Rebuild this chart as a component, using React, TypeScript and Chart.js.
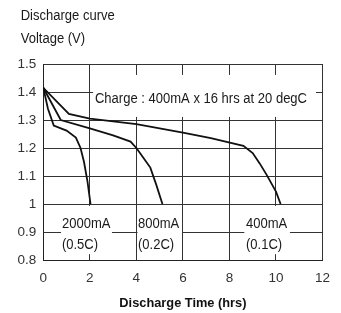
import React, { useEffect, useRef } from 'react';
import { Chart, registerables } from 'chart.js';

Chart.register(...registerables);

// ---- data ----
const timeTicks = [0, 2, 4, 6, 8, 10, 12];
const voltageTicks = [0.8, 0.9, 1.0, 1.1, 1.2, 1.3, 1.4, 1.5];

const seriesNames = ['2000mA (0.5C)', '800mA (0.2C)', '400mA (0.1C)'];
const time2000 = [0, 0.2, 0.45, 1.0, 1.4, 1.6, 1.75, 1.9, 2.03];
const volt2000 = [1.415, 1.34, 1.28, 1.262, 1.237, 1.2, 1.15, 1.08, 1.0];
const time800 = [0, 0.75, 2, 3, 3.75, 4.0, 4.3, 4.6, 4.85, 5.12];
const volt800 = [1.415, 1.3, 1.27, 1.245, 1.223, 1.2, 1.165, 1.13, 1.07, 1.0];
const time400 = [0, 1.1, 2, 4, 6, 7.2, 8.6, 9.0, 9.3, 9.6, 10.0, 10.2];
const volt400 = [1.415, 1.322, 1.305, 1.285, 1.255, 1.235, 1.208, 1.182, 1.145, 1.104, 1.044, 1.0];

const chartTitle = 'Discharge curve';
const yAxisTitle = 'Voltage (V)';
const xAxisTitle = 'Discharge Time (hrs)';
const chargeNote = 'Charge : 400mA x 16 hrs at 20 degC';
const rateLabels = [
  ['2000mA', '(0.5C)'],
  ['800mA', '(0.2C)'],
  ['400mA', '(0.1C)'],
];

// note boxes, in data units (layout only)
const noteBoxes = [
  { lines: [chargeNote], x0: 2.14, x1: 11.72, y0: 1.311, y1: 1.461, tx: 2.22, ty: [1.377] },
  { lines: rateLabels[0], x0: 0.76, x1: 2.95, y0: 0.821, y1: 0.993, tx: 0.8, ty: [0.931, 0.854] },
  { lines: rateLabels[1], x0: 4.05, x1: 5.96, y0: 0.821, y1: 0.993, tx: 4.07, ty: [0.931, 0.854] },
  { lines: rateLabels[2], x0: 8.64, x1: 10.6, y0: 0.821, y1: 0.993, tx: 8.71, ty: [0.931, 0.854] },
];

function hasFont(name: string): boolean {
  const c = document.createElement('canvas').getContext('2d');
  if (!c) return false;
  const s = 'abcdefghijklmnop 0123456789';
  c.font = '40px monospace';
  const a = c.measureText(s).width;
  c.font = `40px '${name}', monospace`;
  const b = c.measureText(s).width;
  return Math.abs(a - b) > 0.5;
}

const pts = (xs: number[], ys: number[]) => xs.map((x, i) => ({ x, y: ys[i] }));

export default function App() {
  const ref = useRef<HTMLCanvasElement | null>(null);

  useEffect(() => {
    if (!ref.current) return;
    const narrow = hasFont('Liberation Sans Narrow');
    const tickFont = narrow
      ? { family: "'Liberation Sans Narrow', 'Liberation Sans', Arial, sans-serif", size: 16 }
      : { family: "'Liberation Sans', Arial, sans-serif", size: 13.5 };
    const titleFont = narrow
      ? { family: "'Liberation Sans Narrow', 'Liberation Sans', Arial, sans-serif", size: 15.5, weight: 'bold' as const }
      : { family: "'Liberation Sans', Arial, sans-serif", size: 12.8, weight: 'bold' as const };

    const textFont = "15.5px 'Liberation Sans', Arial, sans-serif";
    const sx = 0.84;
    const drawText = (ctx: CanvasRenderingContext2D, t: string, x: number, y: number, base: CanvasTextBaseline) => {
      ctx.save();
      ctx.font = textFont;
      ctx.fillStyle = '#1a1a1a';
      ctx.textAlign = 'left';
      ctx.textBaseline = base;
      ctx.translate(x, y);
      ctx.scale(sx, 1);
      ctx.fillText(t, 0, 0);
      ctx.restore();
    };

    const notesPlugin = {
      id: 'notes',
      beforeDatasetsDraw(chart: any) {
        const { ctx, scales } = chart;
        const xs = scales.x;
        const ys = scales.y;
        noteBoxes.forEach((b) => {
          const x0 = xs.getPixelForValue(b.x0);
          const x1 = xs.getPixelForValue(b.x1);
          const y0 = ys.getPixelForValue(b.y1);
          const y1 = ys.getPixelForValue(b.y0);
          ctx.save();
          ctx.fillStyle = '#ffffff';
          ctx.fillRect(x0, y0, x1 - x0, y1 - y0);
          ctx.restore();
          b.lines.forEach((line, i) => {
            drawText(ctx, line, xs.getPixelForValue(b.tx), ys.getPixelForValue(b.ty[i]), 'middle');
          });
        });
      },
      afterDraw(chart: any) {
        const { ctx } = chart;
        drawText(ctx, chartTitle, 12.7, 11.5, 'alphabetic');
        drawText(ctx, yAxisTitle, 12.7, 34.5, 'alphabetic');
      },
    };

    const lineStyle = {
      borderColor: '#111111',
      borderWidth: 1.8,
      pointRadius: 0,
      fill: false,
      tension: 0,
    };

    const chart = new Chart(ref.current, {
      type: 'line',
      data: {
        datasets: [
          { label: seriesNames[0], data: pts(time2000, volt2000), ...lineStyle },
          { label: seriesNames[1], data: pts(time800, volt800), ...lineStyle },
          { label: seriesNames[2], data: pts(time400, volt400), ...lineStyle },
        ],
      },
      options: {
        responsive: false,
        animation: false,
        layout: { padding: { left: 0, right: 18.5, top: 56, bottom: 0 } },
        plugins: {
          legend: { display: false },
          tooltip: { enabled: false },
          title: { display: false },
        },
        scales: {
          x: {
            type: 'linear',
            min: 0,
            max: 12,
            afterBuildTicks: (s: any) => {
              s.ticks = timeTicks.map((v) => ({ value: v }));
            },
            afterFit: (s: any) => {
              s.height = 53;
            },
            ticks: {
              font: tickFont,
              color: '#333333',
              padding: 10,
              maxRotation: 0,
              callback: (v: any) => String(v),
            },
            grid: { color: '#333333', lineWidth: 1, drawTicks: false },
            border: { display: true, color: '#222222', width: 1 },
            title: {
              display: true,
              text: xAxisTitle,
              font: titleFont,
              color: '#111111',
              padding: { top: 0, bottom: 2 },
            },
          },
          y: {
            type: 'linear',
            min: 0.8,
            max: 1.5,
            afterBuildTicks: (s: any) => {
              s.ticks = voltageTicks.map((v) => ({ value: v }));
            },
            afterFit: (s: any) => {
              s.width = 35.3;
            },
            ticks: {
              font: tickFont,
              color: '#333333',
              padding: 7,
              callback: (v: any) => String(Number(Number(v).toFixed(1))),
            },
            grid: { color: '#333333', lineWidth: 1, drawTicks: false },
            border: { display: true, color: '#222222', width: 1 },
          },
        },
      },
      plugins: [notesPlugin],
    });
    return () => chart.destroy();
  }, []);

  return (
    <div style={{ width: 333, height: 305 }}>
      <canvas ref={ref} width={333} height={305} style={{ display: 'block' }} />
    </div>
  );
}
